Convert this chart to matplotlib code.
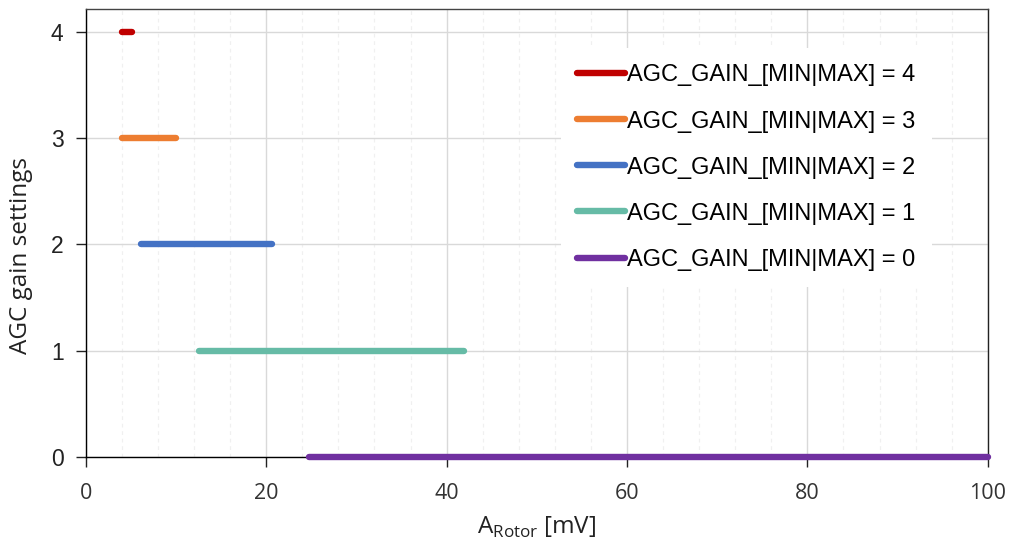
import matplotlib

matplotlib.use("Agg")
import matplotlib.pyplot as plt
from matplotlib.ticker import MultipleLocator

# AGC gain setting ranges over rotor amplitude (mV)
gains = [4, 3, 2, 1, 0]
range_start = [4.0, 4.0, 6.1, 12.5, 24.7]
range_end = [5.1, 10.0, 20.7, 41.9, 100.0]
labels = [f"AGC_GAIN_[MIN|MAX] = {g}" for g in gains]
colors = ["#C00000", "#ED7D31", "#4472C4", "#66BBA6", "#7030A0"]

fig = plt.figure(figsize=(10.09, 5.46), dpi=100)
ax = fig.add_axes([0.085, 0.163, 0.894, 0.820])

for g, x0, x1, lab, col in zip(gains, range_start, range_end, labels, colors):
    ax.plot([x0, x1], [g, g], color=col, lw=4.6, solid_capstyle="round",
            label=lab, clip_on=False, zorder=3)

ax.set_xlim(0, 100)
ax.set_ylim(0, 4.21)
ax.xaxis.set_major_locator(MultipleLocator(20))
ax.xaxis.set_minor_locator(MultipleLocator(4))
ax.yaxis.set_major_locator(MultipleLocator(1))

ax.grid(axis="x", which="major", color="#d9d9d9", lw=1.0)
ax.grid(axis="x", which="minor", color="#f0f0f0", lw=0.9, ls=(0, (3, 3)))
ax.grid(axis="y", which="major", color="#d9d9d9", lw=1.0)
ax.set_axisbelow(True)

for side in ["left", "bottom", "right", "top"]:
    ax.spines[side].set_linewidth(1.0)
ax.spines["top"].set_color("#444444")
ax.spines["right"].set_color("#222222")

ax.tick_params(axis="both", which="major", direction="out", length=7, width=1.0, color="#222222")
ax.tick_params(axis="x", which="minor", length=0)
ax.tick_params(axis="x", pad=11.5)
ax.tick_params(axis="y", pad=9)

for t in ax.get_xticklabels():
    t.set_family("Open Sans")
    t.set_fontsize(15.5)
    t.set_color("#333333")
for t in ax.get_yticklabels():
    t.set_family("Liberation Sans")
    t.set_fontsize(16.5)
    t.set_color("#222222")

ax.set_xlabel(r"A$_\mathregular{Rotor}$ [mV]", family="Open Sans", fontsize=17.5,
              color="#222222", labelpad=8)
ax.set_ylabel("AGC gain settings", family="Open Sans", fontsize=17.5,
              color="#222222")
ax.yaxis.set_label_coords(-0.058, 0.45)

leg = ax.legend(loc="upper right", bbox_to_anchor=(0.951, 0.94), frameon=True,
                framealpha=1.0, edgecolor="none", fancybox=False,
                prop={"family": "Liberation Sans", "size": 17},
                handlelength=2.0, handletextpad=0.1, labelspacing=1.02,
                borderpad=0.7)
for line in leg.get_lines():
    line.set_linewidth(4.6)

fig.savefig("out.png", dpi=100)
